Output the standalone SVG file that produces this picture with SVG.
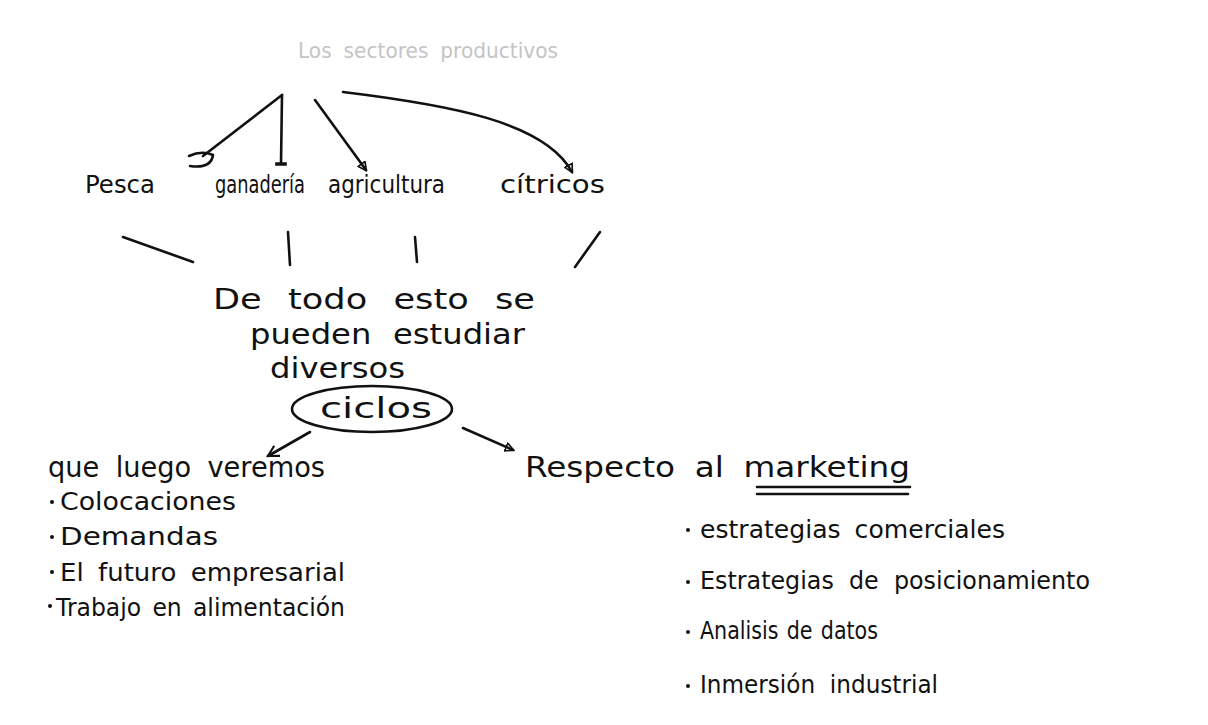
<svg xmlns="http://www.w3.org/2000/svg" width="1208" height="725" viewBox="0 0 1208 725">
<defs>
<style>
text{font-family:"DejaVu Sans","Liberation Sans",sans-serif;fill:#111;}
.t{font-size:28px;}
.k{font-size:24px;}
.s{font-size:25px;}
.title{font-size:22px;fill:#c4c4c4;}
.ln{fill:none;stroke:#111;stroke-width:2.6;stroke-linecap:round;stroke-linejoin:round;}
.dot{fill:#111;}
</style>
<marker id="tri" viewBox="0 0 12 12" refX="10" refY="6" markerWidth="10" markerHeight="10" orient="auto" markerUnits="userSpaceOnUse">
<path d="M1,1 L11,6 L1,11 Z" fill="none" stroke="#111" stroke-width="2"/>
</marker>
<marker id="vee" viewBox="0 0 12 12" refX="10" refY="6" markerWidth="14" markerHeight="14" orient="auto" markerUnits="userSpaceOnUse">
<path d="M1,1 L10,6 L1,11" fill="none" stroke="#111" stroke-width="1.8"/>
</marker>
<marker id="tee" viewBox="0 0 12 12" refX="6" refY="6" markerWidth="14" markerHeight="14" orient="auto" markerUnits="userSpaceOnUse">
<path d="M6,1 L6,11" fill="none" stroke="#111" stroke-width="3"/>
</marker>
</defs>
<rect width="1208" height="725" fill="#fff"/>

<g id="title"><text class="title" x="298" y="58" textLength="260" lengthAdjust="spacingAndGlyphs" word-spacing="6">Los sectores productivos</text></g>

<g id="connectors">
<path class="ln" d="M282,95 L203,156"/>
<path class="ln" d="M189,156 Q202,150 213,155 Q211,169 190,166"/>
<path class="ln" d="M282,95 L281,164" marker-end="url(#tee)"/>
<path class="ln" d="M315,100 L366,170" marker-end="url(#tri)"/>
<path class="ln" d="M343,92 C450,105 545,122 572,172" marker-end="url(#tri)"/>
<path class="ln" d="M123,237 L193,262"/>
<path class="ln" d="M288,232 L290,265"/>
<path class="ln" d="M415,237 L417,262"/>
<path class="ln" d="M600,232 L575,267"/>
<path class="ln" d="M310,432 L268,456" marker-end="url(#vee)"/>
<path class="ln" d="M463,428 L513,450" marker-end="url(#tri)"/>
<path class="ln" d="M757,487 L910,487 M757,494 L908,494" stroke-width="2"/>
</g>

<g id="n-pesca"><text class="k" x="85" y="193" textLength="70" lengthAdjust="spacingAndGlyphs">Pesca</text></g>
<g id="n-ganaderia"><text class="k" x="215" y="193" textLength="90" lengthAdjust="spacingAndGlyphs">ganadería</text></g>
<g id="n-agricultura"><text class="k" x="328" y="193" textLength="117" lengthAdjust="spacingAndGlyphs">agricultura</text></g>
<g id="n-citricos"><text class="k" x="500" y="193" textLength="105" lengthAdjust="spacingAndGlyphs">cítricos</text></g>

<g id="n-detodo">
<text class="t" x="213" y="309" textLength="322" lengthAdjust="spacingAndGlyphs" word-spacing="12">De todo esto se</text>
<text class="t" x="250" y="344" textLength="275" lengthAdjust="spacingAndGlyphs" word-spacing="10">pueden estudiar</text>
<text class="t" x="270" y="378" textLength="135" lengthAdjust="spacingAndGlyphs">diversos</text>
</g>

<g id="n-ciclos">
<ellipse cx="372" cy="409" rx="80" ry="23" fill="none" stroke="#111" stroke-width="2.6"/>
<text class="t" x="320" y="418" textLength="112" lengthAdjust="spacingAndGlyphs">ciclos</text>
</g>

<g id="n-veremos">
<text class="t" x="48" y="477" textLength="277" lengthAdjust="spacingAndGlyphs" word-spacing="8">que luego veremos</text>
<circle class="dot" cx="52" cy="502" r="2"/>
<text class="s" x="60" y="510" textLength="176" lengthAdjust="spacingAndGlyphs">Colocaciones</text>
<circle class="dot" cx="52" cy="537" r="2"/>
<text class="s" x="60" y="545" textLength="158" lengthAdjust="spacingAndGlyphs">Demandas</text>
<circle class="dot" cx="52" cy="572" r="2"/>
<text class="s" x="60" y="581" textLength="285" lengthAdjust="spacingAndGlyphs" word-spacing="6">El futuro empresarial</text>
<circle class="dot" cx="50" cy="606" r="2"/>
<text class="s" x="56" y="616" textLength="289" lengthAdjust="spacingAndGlyphs" word-spacing="4">Trabajo en alimentación</text>
</g>

<g id="n-marketing">
<text class="t" x="525" y="477" textLength="385" lengthAdjust="spacingAndGlyphs" word-spacing="8">Respecto al marketing</text>
<circle class="dot" cx="688" cy="530" r="2"/>
<text class="s" x="700" y="538" textLength="305" lengthAdjust="spacingAndGlyphs" word-spacing="6">estrategias comerciales</text>
<circle class="dot" cx="688" cy="582" r="2"/>
<text class="s" x="700" y="589" textLength="390" lengthAdjust="spacingAndGlyphs" word-spacing="8">Estrategias de posicionamiento</text>
<circle class="dot" cx="688" cy="632" r="2"/>
<text class="s" x="700" y="639" textLength="178" lengthAdjust="spacingAndGlyphs" word-spacing="2">Analisis de datos</text>
<circle class="dot" cx="688" cy="686" r="2"/>
<text class="s" x="700" y="693" textLength="238" lengthAdjust="spacingAndGlyphs" word-spacing="8">Inmersión industrial</text>
</g>
</svg>
